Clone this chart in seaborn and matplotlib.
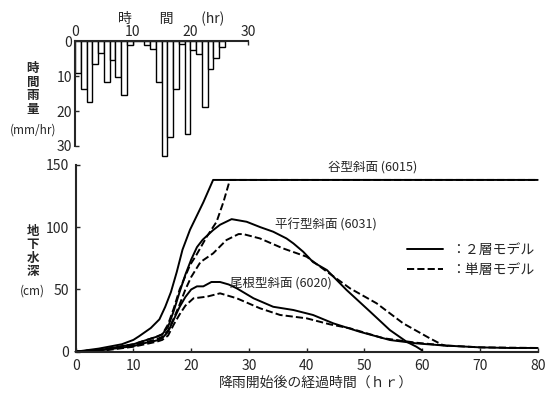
import numpy as np
import pandas as pd
import matplotlib
matplotlib.use("Agg")
import matplotlib.pyplot as plt
from matplotlib.lines import Line2D
import seaborn as sns

# 時間雨量 (mm/hr), 1時間ごと (0-1, 1-2, ...)
rain_hour = list(range(26))
rain_mm = [9.0, 13.5, 17.3, 6.5, 3.4, 11.5, 5.3, 10.2, 15.4, 0.9,
           0.0, 0.0, 0.9, 2.3, 11.5, 33.0, 27.5, 13.6, 0.8, 26.6,
           2.4, 3.5, 18.7, 7.9, 4.6, 1.5]

# 谷型斜面 (6015)
valley_2_x = [0, 4, 8, 10, 11, 13, 14.5, 15.5, 16.5, 17.5, 18.5, 19.8, 22.1, 23.8, 80]
valley_2_y = [0, 2.5, 6, 9.5, 12.5, 19, 26, 36, 48, 64, 82, 98, 120, 138, 138]
valley_1_x = [0, 5, 10, 12, 14, 15, 16, 17, 18, 19.8, 20.9, 22.7, 24.4, 25.6, 26.7, 80]
valley_1_y = [0, 2, 6, 9, 12, 14, 22, 35, 50, 69.6, 77.7, 92.4, 104.4, 120.5, 138, 138]

# 平行型斜面 (6031)
para_2_x = [0, 5, 10, 12, 14, 15, 16, 17, 18, 19, 20, 21, 22, 23.8, 25, 27, 29.6, 32,
            34.2, 36.5, 37.7, 39.4, 41.1, 43.5, 46.9, 51, 54.4, 57.3, 59, 60]
para_2_y = [0, 2, 6, 9, 12, 14, 20, 33, 48, 62, 74, 84, 90, 97.7, 102, 106.5, 104.4, 100,
            96.4, 91, 87, 80.3, 72, 65.6, 49.6, 32.1, 17.4, 8, 4, 1]
para_1_x = [0, 5, 10, 12, 14, 15, 16, 17, 18, 19, 20, 21.6, 23.8, 26.1, 28.2, 29, 31.9,
            35.9, 40, 43.5, 47.5, 52.1, 56.7, 61.3, 63.5, 65]
para_1_y = [0, 2, 5, 7.5, 10, 12, 17, 27, 38, 50, 60, 72, 79, 89.7, 94.5, 94.5, 91,
            83, 76.3, 64.3, 50.9, 38.9, 22.8, 10.8, 5.5, 4]

# 尾根型斜面 (6020)
ridge_2_x = [0, 5, 10, 12, 14, 15, 16, 17, 18, 19, 20, 21, 22.1, 23.5, 25, 26.5, 27.9,
             30.8, 34.2, 37.7, 41.1, 44.6, 49.2, 54.4, 59, 63.7, 70, 75, 80]
ridge_2_y = [0, 1.5, 4.5, 7, 9, 11, 16, 26, 36, 44, 50, 52.5, 52.5, 56, 56, 54, 50.9,
             42.9, 36.1, 33.5, 29.5, 22.8, 16, 9.4, 6.7, 5, 3.5, 3, 3]
ridge_1_x = [0, 5, 10, 12, 14, 15, 16, 17, 18, 19, 20.4, 22.7, 25, 27.9, 31.9, 35.4,
             40, 44, 47.5, 53.3, 59, 64, 70, 80]
ridge_1_y = [0, 1, 4, 6, 8, 9.5, 13, 22, 30, 37, 42.9, 44.2, 46.9, 42.9, 34.9, 29.5,
             26.8, 22, 18.8, 10.8, 7.2, 5, 3.5, 3]

sns.set_style("ticks")
plt.rcParams['font.family'] = ['Noto Sans CJK JP', 'DejaVu Sans']

fig = plt.figure(figsize=(5.46, 3.95), dpi=100)

# --- 上段: ハイエトグラフ ---
ax_r = fig.add_axes([0.1374, 0.6304, 0.3168, 0.2646])
rain_df = pd.DataFrame({"mid": np.array(rain_hour) + 0.5, "rain": rain_mm})
sns.barplot(data=rain_df, x="mid", y="rain", native_scale=True, width=1.0,
            color="white", edgecolor="black", linewidth=1.0, ax=ax_r)
for p in ax_r.patches:
    p.set_clip_on(False)
ax_r.set_xlim(0, 30)
ax_r.set_ylim(30, 0)
ax_r.xaxis.tick_top()
ax_r.xaxis.set_label_position("top")
ax_r.set_xticks([0, 10, 20, 30])
ax_r.set_yticks([0, 10, 20, 30])
ax_r.tick_params(direction="in", length=3, width=1, labelsize=10, pad=2)
for s in ["right", "bottom"]:
    ax_r.spines[s].set_visible(False)
for s in ["left", "top"]:
    ax_r.spines[s].set_linewidth(1.5)
ax_r.set_xlabel("時　　間　　(hr)", fontsize=10)
ax_r.xaxis.set_label_coords(0.558, 1.182)
ax_r.set_ylabel("")
fig.text(0.06, 0.775, "時\n間\n雨\n量", ha="center", va="center", fontsize=9,
         fontweight="bold", linespacing=1.05)
fig.text(0.06, 0.672, "(mm/hr)", ha="center", va="center", fontsize=8.5)

# --- 下段: 地下水深 ---
ax = fig.add_axes([0.1386, 0.1096, 0.8462, 0.4727])
curves = [
    (valley_2_x, valley_2_y, "-"), (valley_1_x, valley_1_y, "--"),
    (para_2_x, para_2_y, "-"), (para_1_x, para_1_y, "--"),
    (ridge_2_x, ridge_2_y, "-"), (ridge_1_x, ridge_1_y, "--"),
]
for cx, cy, ls in curves:
    sns.lineplot(x=cx, y=cy, color="black", linestyle=ls, linewidth=1.4,
                 sort=False, estimator=None, ax=ax)
ax.set_xlim(0, 80)
ax.set_ylim(0, 150)
ax.set_xticks(range(0, 81, 10))
ax.set_yticks([0, 50, 100, 150])
ax.tick_params(direction="in", length=3, width=1, labelsize=10, pad=5)
for s in ["right", "top"]:
    ax.spines[s].set_visible(False)
for s in ["left", "bottom"]:
    ax.spines[s].set_linewidth(1.5)
for line in ax.lines:
    line.set_clip_on(False)

ax.text(51.4, 148.6, "谷型斜面 (6015)", ha="center", va="center", fontsize=9)
ax.text(43.3, 101.8, "平行型斜面 (6031)", ha="center", va="center", fontsize=9)
ax.text(35.5, 55.0, "尾根型斜面 (6020)", ha="center", va="center", fontsize=9)

handles = [Line2D([], [], color="black", linestyle="-", linewidth=1.4),
           Line2D([], [], color="black", linestyle="--", linewidth=1.4)]
ax.legend(handles, ["：２層モデル", "：単層モデル"], loc="upper left",
          bbox_to_anchor=(0.745, 0.385), bbox_transform=fig.transFigure,
          frameon=False, fontsize=10, handlelength=2.6, handletextpad=0.6,
          labelspacing=0.45, borderpad=0, borderaxespad=0)

ax.set_xlabel("降雨開始後の経過時間（ｈｒ）", fontsize=10)
ax.xaxis.set_label_coords((316 - 75.7) / 462, -0.13)
ax.set_ylabel("")
fig.text(0.06, 0.363, "地\n下\n水\n深", ha="center", va="center", fontsize=9,
         fontweight="bold", linespacing=1.05)
fig.text(0.06, 0.262, "(cm)", ha="center", va="center", fontsize=8.5)

fig.savefig("out.png", dpi=100)
